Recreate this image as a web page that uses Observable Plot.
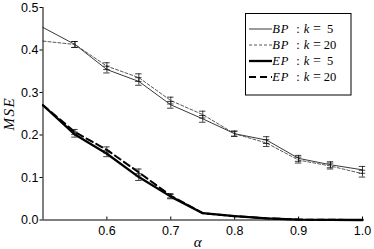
<!DOCTYPE html>
<html>
<head>
<meta charset="utf-8">
<script src="https://cdn.jsdelivr.net/npm/d3@7"></script>
<script src="https://cdn.jsdelivr.net/npm/@observablehq/plot@0.6"></script>
<style>
  html, body { margin: 0; padding: 0; background: #fff; }
  #chart svg { display: block; }
</style>
</head>
<body>
<div id="chart"></div>
<script>
// ---- data ----
const alpha = [0.5, 0.55, 0.6, 0.65, 0.7, 0.75, 0.8, 0.85, 0.9, 0.95, 1.0];
const bp5  = [0.453, 0.413, 0.354, 0.326, 0.271, 0.238, 0.203, 0.188, 0.145, 0.130, 0.118];
const bp20 = [0.421, 0.413, 0.362, 0.335, 0.281, 0.248, 0.203, 0.181, 0.141, 0.127, 0.109];
const ep5  = [0.270, 0.201, 0.156, 0.101, 0.055, 0.016, 0.009, 0.004, 0.001, 0.0005, 0.0];
const ep20 = [0.270, 0.207, 0.165, 0.112, 0.057, 0.016, 0.009, 0.004, 0.001, 0.0005, 0.0];
const bpErr = [null, 0.007, 0.008, 0.009, 0.008, 0.008, 0.006, 0.008, 0.007, 0.007, 0.008];
const epErr = [null, 0.006, 0.007, 0.008, 0.005, null, null, null, null, null, null];
const xTicks = [0.6, 0.7, 0.8, 0.9, 1.0];
const yTicks = [0.0, 0.1, 0.2, 0.3, 0.4, 0.5];
const seriesNames = ["BP : k = 5", "BP : k = 20", "EP : k = 5", "EP : k = 20"];

// ---- build tables ----
const seriesDefs = [
  {name: seriesNames[0], ys: bp5,  err: bpErr, stroke: "#222", width: 0.9, dash: null},
  {name: seriesNames[1], ys: bp20, err: bpErr, stroke: "#444", width: 0.9, dash: "3,2"},
  {name: seriesNames[2], ys: ep5,  err: epErr, stroke: "#000", width: 2.3, dash: null},
  {name: seriesNames[3], ys: ep20, err: epErr, stroke: "#000", width: 2.0, dash: "7,4"}
];
const rows = s => alpha.map((a, i) => ({alpha: a, mse: s.ys[i]}));
const errRows = seriesDefs.flatMap(s => alpha.map((a, i) => s.err[i] == null ? null :
  ({alpha: a, lo: Math.max(0, s.ys[i] - s.err[i]), hi: s.ys[i] + s.err[i]})).filter(d => d));
const capRows = errRows.flatMap(d => [{alpha: d.alpha, y: d.lo}, {alpha: d.alpha, y: d.hi}]);
const capHalf = 0.005;

const marks = [];
for (const s of seriesDefs) {
  marks.push(Plot.line(rows(s), {x: "alpha", y: "mse", stroke: s.stroke, strokeWidth: s.width,
    strokeDasharray: s.dash || undefined, strokeLinejoin: "round"}));
}
marks.push(Plot.ruleX(errRows, {x: "alpha", y1: "lo", y2: "hi", stroke: "#111", strokeWidth: 0.8}));
marks.push(Plot.ruleY(capRows, {y: "y", x1: d => d.alpha - capHalf, x2: d => d.alpha + capHalf, stroke: "#111", strokeWidth: 0.8}));
marks.push(Plot.ruleX([0.5], {y1: 0, y2: 0.5, stroke: "#000", strokeWidth: 1}));
marks.push(Plot.ruleY([0], {x1: 0.5, x2: 1.0, stroke: "#000", strokeWidth: 1}));
marks.push(Plot.axisY({ticks: yTicks, tickFormat: d3.format(".1f"), tickSize: 3, tickPadding: 1.5, label: "MSE", labelAnchor: "center", labelArrow: "none", labelOffset: 40}));
marks.push(Plot.axisX({ticks: xTicks, tickFormat: d3.format(".1f"), tickSize: -3, tickPadding: 9, label: "α", labelAnchor: "center", labelArrow: "none", labelOffset: 27}));

const chart = Plot.plot({
  width: 374,
  height: 249,
  marginLeft: 42.5,
  marginRight: 12,
  marginTop: 7,
  marginBottom: 29.5,
  x: {domain: [0.5, 1.0]},
  y: {domain: [0, 0.5]},
  style: {fontFamily: "'Liberation Sans', Arial, sans-serif", fontSize: "12.5px", color: "#000", background: "#fff"},
  marks
});
document.getElementById("chart").appendChild(chart);

// style axis labels as italic serif (math)
const svg = d3.select(chart);
svg.selectAll('[aria-label="y-axis label"] text')
  .style("font-family", "'Liberation Serif', 'Times New Roman', serif")
  .style("font-style", "italic")
  .style("font-size", "15px")
  .style("letter-spacing", "1.5px");
svg.selectAll('[aria-label="x-axis label"] text')
  .style("font-family", "'Liberation Serif', 'Times New Roman', serif")
  .style("font-style", "italic")
  .style("font-size", "15px")
  .attr("dx", -5);

// ---- legend ----
const lg = svg.append("g").attr("class", "legend");
lg.append("rect").attr("x", 245.5).attr("y", 13.5).attr("width", 105.5).attr("height", 81.5)
  .attr("fill", "#fff").attr("stroke", "#000").attr("stroke-width", 1);
const rowY = [29, 45, 61, 77];
seriesDefs.forEach((s, i) => {
  const y = rowY[i];
  lg.append("line").attr("x1", 249).attr("x2", 272).attr("y1", y).attr("y2", y)
    .attr("stroke", s.stroke).attr("stroke-width", s.width)
    .attr("stroke-dasharray", s.dash || null);
  const [lhs, rhs] = s.name.split(" : ");
  const [kk, num] = rhs.split(" = ");
  const t = lg.append("text").attr("y", y + 3.8)
    .style("font-family", "'Liberation Serif', 'Times New Roman', serif")
    .style("font-size", "12.5px").attr("fill", "#000");
  t.append("tspan").attr("x", 276).style("font-style", "italic").text(lhs[0]);
  t.append("tspan").attr("x", 284.5).style("font-style", "italic").text(lhs.slice(1));
  t.append("tspan").attr("x", 298).text(":");
  t.append("tspan").attr("x", 306.5).style("font-style", "italic").text(kk);
  t.append("tspan").attr("x", 317).style("font-size", "14px").text("=");
  t.append("tspan").attr("x", 330).text(num);
});
</script>
</body>
</html>
